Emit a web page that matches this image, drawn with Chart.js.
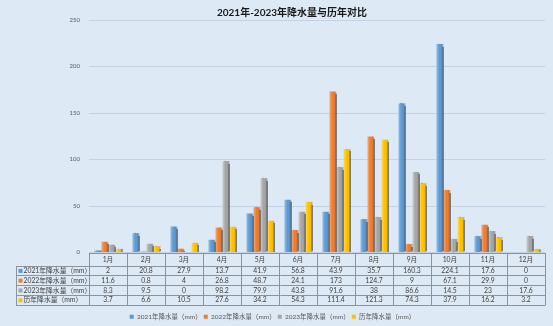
<!DOCTYPE html>
<html lang="zh">
<head>
<meta charset="UTF-8">
<title>2021年-2023年降水量与历年对比</title>
<style>
  html, body { margin: 0; padding: 0; background: #dde9f5; }
  #wrap { width: 553px; height: 326px; position: relative; }
</style>
</head>
<body>
<div id="wrap"><canvas id="rainChart"></canvas></div>
<script src="https://cdn.jsdelivr.net/npm/chart.js"></script>
<script>
// monthly rainfall (mm)
const months = ['1月', '2月', '3月', '4月', '5月', '6月', '7月', '8月', '9月', '10月', '11月', '12月'];
const rain2021 = [2, 20.8, 27.9, 13.7, 41.9, 56.8, 43.9, 35.7, 160.3, 224.1, 17.6, 0];
const rain2022 = [11.6, 0.8, 4, 26.8, 48.7, 24.1, 173, 124.7, 9, 67.1, 29.9, 0];
const rain2023 = [8.3, 9.5, 0, 98.2, 79.9, 43.8, 91.6, 38, 86.6, 14.5, 23, 17.6];
const rainAvg = [3.7, 6.6, 10.5, 27.6, 34.2, 54.3, 111.4, 121.3, 74.3, 37.9, 16.2, 3.2];
const seriesNames = ['2021年降水量（mm）', '2022年降水量（mm）', '2023年降水量（mm）', '历年降水量（mm）'];
const yMax = 250;
const yStep = 50;

const baseColors = ['#5b9bd5', '#ed7d31', '#a5a5a5', '#ffc000'];
const lightColors = ['#93bde6', '#f5a772', '#cbcbcb', '#ffd95a'];
const darkColors = ['#3b6fa3', '#b65a1b', '#777777', '#c99600'];
const FONT = "Lato, 'Noto Sans CJK SC', sans-serif";

// left-to-right shading on each bar
function barFill(ctx) {
  const i = ctx.datasetIndex;
  if (ctx.type !== 'data') return baseColors[i];
  const el = ctx.chart.getDatasetMeta(i).data[ctx.dataIndex];
  if (!el || !isFinite(el.x) || !el.width) return baseColors[i];
  const g = ctx.chart.ctx.createLinearGradient(el.x - el.width / 2, 0, el.x + el.width / 2, 0);
  g.addColorStop(0, lightColors[i]);
  g.addColorStop(0.5, baseColors[i]);
  g.addColorStop(0.8, baseColors[i]);
  g.addColorStop(1, darkColors[i]);
  return g;
}

const barShadow = {
  id: 'barShadow',
  beforeDatasetsDraw(chart) {
    const c = chart.ctx;
    c.save();
    c.shadowColor = 'rgba(40,40,40,0.55)';
    c.shadowOffsetX = 1.2;
    c.shadowBlur = 0.8;
  },
  afterDatasetsDraw(chart) {
    chart.ctx.restore();
  }
};

// data table under the plot + title
const dataTable = {
  id: 'dataTable',
  afterDraw(chart) {
    const c = chart.ctx;
    const x = chart.scales.x;
    const area = chart.chartArea;
    const rows = [rain2021, rain2022, rain2023, rainAvg];
    const top = Math.round(area.bottom);
    const headH = 12.5, rowH = 9.8, left = 16;
    const step = x.getPixelForValue(1) - x.getPixelForValue(0);
    const x0 = Math.round(x.getPixelForValue(0) - step / 2);
    const right = Math.round(x0 + step * months.length);
    const bottom = top + headH + rows.length * rowH;

    c.save();
    c.lineWidth = 1;
    c.strokeStyle = '#8d939a';
    c.beginPath();
    c.moveTo(x0, top + 0.5);
    c.lineTo(right, top + 0.5);
    for (let r = 0; r <= rows.length; r++) {
      const y = Math.round(top + headH + r * rowH) + 0.5;
      c.moveTo(left, y);
      c.lineTo(right, y);
    }
    c.moveTo(left + 0.5, Math.round(top + headH));
    c.lineTo(left + 0.5, Math.round(bottom) + 0.5);
    for (let k = 0; k <= months.length; k++) {
      const xx = Math.round(x0 + k * step) + 0.5;
      c.moveTo(xx, top);
      c.lineTo(xx, Math.round(bottom) + 0.5);
    }
    c.stroke();

    c.fillStyle = '#3f3f3f';
    c.font = '6.8px ' + FONT;
    c.textAlign = 'center';
    c.textBaseline = 'middle';
    months.forEach((m, i) => {
      c.fillText(m, x.getPixelForValue(i), top + headH / 2 + 0.5);
    });
    rows.forEach((vals, r) => {
      const yc = top + headH + r * rowH + rowH / 2 + 0.5;
      vals.forEach((v, i) => {
        c.fillStyle = '#3f3f3f';
        c.textAlign = 'center';
        c.fillText(String(v), x.getPixelForValue(i), yc);
      });
      c.fillStyle = baseColors[r];
      c.fillRect(left + 2.5, yc - 2, 4, 4);
      c.fillStyle = '#3f3f3f';
      c.textAlign = 'left';
      c.fillText(seriesNames[r], left + 7.5, yc);
    });

    c.fillStyle = '#1a1a1a';
    c.font = 'bold 10px ' + FONT;
    c.textAlign = 'center';
    c.fillText('2021年-2023年降水量与历年对比', 292, 12.5);
    c.restore();
  }
};

const datasets = [rain2021, rain2022, rain2023, rainAvg].map((vals, i) => ({
  label: seriesNames[i],
  data: vals,
  backgroundColor: barFill,
  borderWidth: 0,
  barPercentage: 0.86,
  categoryPercentage: 0.74
}));

const chart = new Chart(document.getElementById('rainChart'), {
  type: 'bar',
  data: { labels: months, datasets: datasets },
  options: {
    responsive: true,
    maintainAspectRatio: false,
    animation: false,
    layout: { padding: { top: 20, right: 8, bottom: -4, left: 0 } },
    plugins: {
      title: { display: false },
      tooltip: { enabled: false },
      legend: {
        position: 'bottom',
        labels: {
          font: { size: 6.5, family: FONT },
          color: '#595959',
          boxWidth: 4,
          boxHeight: 4,
          padding: 2,
          generateLabels(ch) {
            return ch.data.datasets.map((ds, i) => ({
              text: ds.label,
              fillStyle: baseColors[i],
              strokeStyle: baseColors[i],
              lineWidth: 0,
              fontColor: '#595959',
              hidden: false,
              datasetIndex: i
            }));
          }
        }
      }
    },
    scales: {
      x: {
        ticks: { display: false },
        grid: { display: false },
        border: { display: false },
        afterFit(scale) { scale.height = 59; }
      },
      y: {
        min: 0,
        max: yMax,
        ticks: {
          stepSize: yStep,
          font: { size: 6, family: FONT },
          color: '#595959',
          padding: 9
        },
        grid: { color: '#c4d3e3', drawTicks: false },
        border: { display: false },
        afterFit(scale) { scale.width = 89; }
      }
    }
  },
  plugins: [barShadow, dataTable]
});
// second pass so the bar gradients know their positions
chart.update('none');
</script>
</body>
</html>
